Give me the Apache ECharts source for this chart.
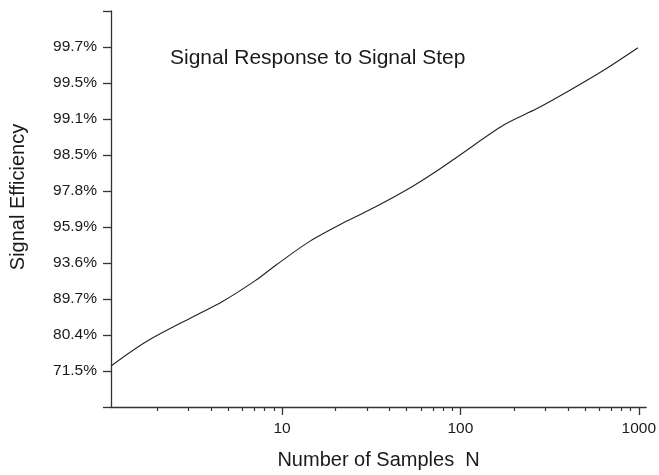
<!DOCTYPE html>
<html>
<head>
<meta charset="utf-8">
<script src="https://cdn.jsdelivr.net/npm/echarts@6/dist/echarts.min.js"></script>
<style>
html,body{margin:0;padding:0;background:#fff;}
#chart{width:659px;height:475px;}
</style>
</head>
<body>
<div id="chart"></div>
<script>
// Number of samples N (log axis)
const sampleN = [1.1, 1.74, 3.3, 4.64, 7.08, 9.35, 14.3, 22.8, 33.5, 51.2, 71.9, 96.8, 175.8, 268.7, 411, 629, 990];
// Position on the efficiency axis (1 = 71.5%, 10 = 99.7%)
const efficiencyPos = [1.14, 1.82, 2.55, 2.93, 3.51, 3.96, 4.60, 5.15, 5.56, 6.06, 6.52, 6.96, 7.84, 8.29, 8.80, 9.34, 9.98];
// Y tick labels at positions 1..10
const yTickLabels = ['71.5%', '80.4%', '89.7%', '93.6%', '95.9%', '97.8%', '98.5%', '99.1%', '99.5%', '99.7%'];
const xMajorTicks = [10, 100, 1000];
const xMinorTicks = [2,3,4,5,6,7,8,9,20,30,40,50,60,70,80,90,200,300,400,500,600,700,800,900];

const titleText = 'Signal Response to Signal Step';
const xName = 'Number of Samples  N';
const yName = 'Signal Efficiency';

const FONT = '"Liberation Sans", Arial, sans-serif';
const AXIS_COLOR = '#333';
const TEXT_COLOR = '#1a1a1a';

const chart = echarts.init(document.getElementById('chart'), null, {renderer: 'canvas'});
chart.setOption({
  animation: false,
  backgroundColor: '#fff',
  title: {
    text: titleText,
    left: 170,
    top: 48,
    padding: 0,
    textStyle: {fontFamily: FONT, fontSize: 21, fontWeight: 'normal', color: TEXT_COLOR}
  },
  grid: {left: 110, right: 9, top: 11, bottom: 62, containLabel: false},
  xAxis: [
    {
      type: 'log',
      logBase: 10,
      min: 1.1,
      max: 1100,
      position: 'bottom',
      name: xName,
      nameLocation: 'middle',
      nameGap: 43,
      nameTextStyle: {fontFamily: FONT, fontSize: 20, color: TEXT_COLOR},
      axisLine: {show: true, onZero: false, lineStyle: {color: AXIS_COLOR, width: 1.3}},
      axisTick: {show: true, inside: false, length: 8, lineStyle: {color: AXIS_COLOR, width: 1.3}, customValues: xMajorTicks},
      axisLabel: {show: true, margin: 14, fontFamily: FONT, fontSize: 15.5, color: TEXT_COLOR, customValues: xMajorTicks,
        formatter: v => String(Math.round(v))},
      splitLine: {show: false},
      minorTick: {show: false}
    },
    {
      type: 'log',
      logBase: 10,
      min: 1.1,
      max: 1100,
      position: 'bottom',
      offset: 0,
      axisLine: {show: false},
      axisTick: {show: true, inside: false, length: 4, lineStyle: {color: AXIS_COLOR, width: 1.2}, customValues: xMinorTicks},
      axisLabel: {show: false},
      splitLine: {show: false}
    }
  ],
  yAxis: {
    type: 'value',
    min: 0,
    max: 11,
    interval: 1,
    name: yName,
    nameLocation: 'middle',
    nameGap: 83,
    nameRotate: 90,
    nameTextStyle: {fontFamily: FONT, fontSize: 20, color: TEXT_COLOR, padding: [0, 0, 0, 24]},
    axisLine: {show: true, onZero: false, lineStyle: {color: AXIS_COLOR, width: 1.3}},
    axisTick: {show: true, inside: false, length: 8, lineStyle: {color: AXIS_COLOR, width: 1.3}},
    axisLabel: {
      show: true, margin: 14, fontFamily: FONT, fontSize: 15.5, color: TEXT_COLOR,
      showMinLabel: true, showMaxLabel: true,
      formatter: v => (v >= 1 && v <= yTickLabels.length) ? yTickLabels[v - 1] : ''
    },
    splitLine: {show: false}
  },
  series: [{
    type: 'line',
    xAxisIndex: 0,
    data: sampleN.map((n, i) => [n, efficiencyPos[i]]),
    showSymbol: false,
    smooth: 0.3,
    lineStyle: {color: '#222', width: 1.1},
    clip: false
  }]
});
</script>
</body>
</html>
